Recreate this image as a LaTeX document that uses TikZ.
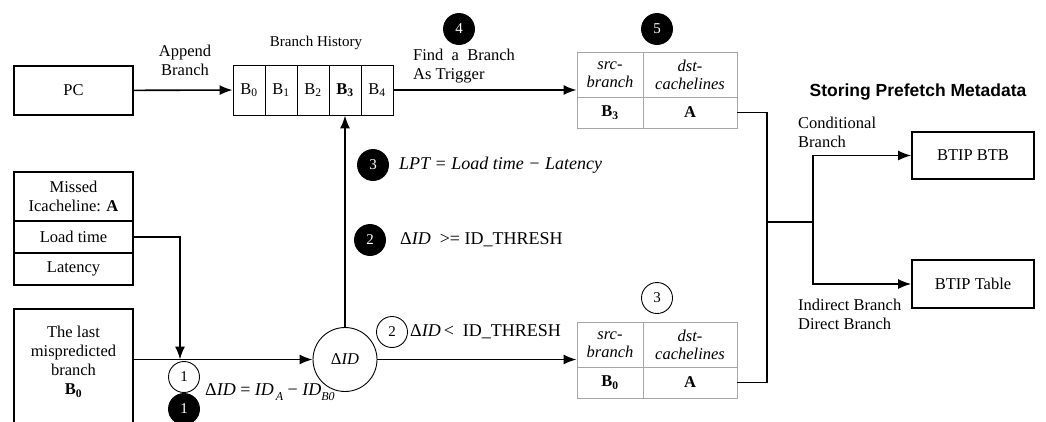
\documentclass[tikz,border=0pt]{standalone}
\usepackage{fontspec}
\setmainfont{Liberation Serif}
\newfontfamily\headsans{Liberation Sans}
\usetikzlibrary{arrows.meta}

\begin{document}
\begin{tikzpicture}[x=1pt,y=-1pt,
  every node/.style={font=\fontsize{16.5}{19}\selectfont},
  box/.style={draw,line width=1.6pt,minimum width=119pt,minimum height=49pt,align=center,inner sep=0pt},
  cell/.style={draw,line width=0.9pt,minimum width=32pt,minimum height=50pt,inner sep=0pt},
  tcell/.style={draw=gray!70,line width=0.9pt,minimum height=31pt,inner sep=0pt,align=center},
  thead/.style={tcell,minimum height=45pt,font=\fontsize{16.5}{18}\selectfont\itshape},
  wnum/.style={circle,draw,line width=0.9pt,minimum size=31pt,inner sep=0pt,font=\fontsize{15}{15}\selectfont},
  bnum/.style={wnum,fill=black,text=white},
  eqtext/.style={anchor=west,inner sep=0pt,font=\fontsize{18}{20}\selectfont},
  arr/.style={line width=1.6pt,-{Latex[length=13pt,width=10pt]}},
  wire/.style={line width=1.6pt}]
  \useasboundingbox (0,0) rectangle (1046,421);

  % branch history
  \node[box] (pc) at (73.5,90.5) {PC};
  \node[align=center] (append) at (185,60) {Append\\Branch};
  \foreach \i/\b in {0/B\textsubscript{0},1/B\textsubscript{1},2/B\textsubscript{2},3/\textbf{B\textsubscript{3}},4/B\textsubscript{4}}
    \node[cell] (h\i) at (249+32*\i,90) {\b};
  \node[font=\fontsize{15}{15}\selectfont] (histlabel) at (316,43) {Branch History};
  \draw[arr] (pc) -- (h0);

  % miss record
  \node[box] (miss) at (73.5,196.5) {Missed\\Icacheline: \textbf{A}};
  \node[box,minimum height=32pt] (load) at (73.5,237) {Load time};
  \node[box,minimum height=32pt] (lat) at (73.5,269) {Latency};

  % last mispredicted branch (box runs off the bottom)
  \coordinate (lasttop) at (0,309);
  \coordinate (lastbot) at (0,440);
  \node[minimum width=119pt,align=center,inner sep=0pt] (last) at (73.5,362) {The last\\mispredicted\\branch\\\textbf{B\textsubscript{0}}};
  \draw[wire] (last.west |- lastbot) |- (last.east |- lasttop) -- (last.east |- lastbot);

  \node[circle,draw,line width=0.9pt,minimum size=64pt,inner sep=0pt] (delta) at (345,359.5) {Δ\textit{ID}};
  \coordinate (join) at (180,359.5);
  \draw[arr] (load.east) -| (join);
  \draw[arr] (last.east |- delta) -- (delta);
  \draw[arr] (delta) -- (h3);

  % steps
  \node[wnum] (w1) at (184,377) {1};
  \node[bnum] (k1) at (184,409) {1};
  \node[eqtext,anchor=base west] (eqid) at (205,395) {Δ\textit{ID} = \textit{ID}\raisebox{-5pt}{\fontsize{12}{12}\selectfont\itshape\,A} − \textit{ID}\raisebox{-5pt}{\fontsize{12}{12}\selectfont\itshape B0}};
  \node[bnum] (k3) at (373,165) {3};
  \node[eqtext] (eqlpt) at (399,165) {\itshape LPT = Load time − Latency};
  \node[bnum] (k2) at (370,240) {2};
  \node[eqtext] (ge) at (400,240) {Δ\textit{ID}\ \ >= ID\_THRESH};
  \node[wnum] (w2) at (392,332) {2};
  \node[eqtext] (lt) at (410,332) {Δ\textit{ID}\,<\ \ ID\_THRESH};
  \node[wnum] (w3) at (657,298) {3};
  \node[bnum] (k4) at (459,29) {4};
  \node[bnum] (k5) at (657,29) {5};
  \node[anchor=west,align=left,inner sep=0pt] (trig) at (413,66) {Find\ \ a\ \ Branch\\As Trigger};

  % metadata tables
  \foreach \which/\y/\b in {t/52/3,b/322/0} {
    \node[thead,minimum width=66pt] (\which src) at (610,\y+22.5) {src-\\branch};
    \node[thead,minimum width=94pt] (\which dst) at (690,\y+22.5) {dst-\\cachelines};
    \node[tcell,minimum width=66pt] (\which br) at (610,\y+60.5) {\textbf{B\textsubscript{\b}}};
    \node[tcell,minimum width=94pt] (\which ln) at (690,\y+60.5) {\textbf{A}};
  }
  \draw[arr] (h4) -- (h4 -| tsrc.west);
  \draw[arr] (delta) -- (delta -| bsrc.west);

  % storing
  \node[font=\headsans\bfseries\fontsize{17.5}{20}\selectfont] (meta) at (918,92) {Storing Prefetch Metadata};
  \node[box,minimum width=122pt,minimum height=47pt] (btb) at (973,155.5) {BTIP BTB};
  \node[box,minimum width=122pt,minimum height=48pt] (btab) at (973,284) {BTIP Table};
  \node[anchor=west,align=left,inner sep=0pt] (cond) at (798,132.5) {Conditional\\Branch};
  \node[anchor=west,align=left,inner sep=0pt] (ind) at (798,314) {Indirect Branch\\Direct Branch};
  \coordinate (bus) at (767,222);
  \coordinate (split) at (813,222);
  \draw[wire] (tln) -| (bus) |- (bln);
  \draw[wire] (bus) -- (split);
  \draw[arr] (split) |- (btb);
  \draw[arr] (split) |- (btab);
\end{tikzpicture}
\end{document}
